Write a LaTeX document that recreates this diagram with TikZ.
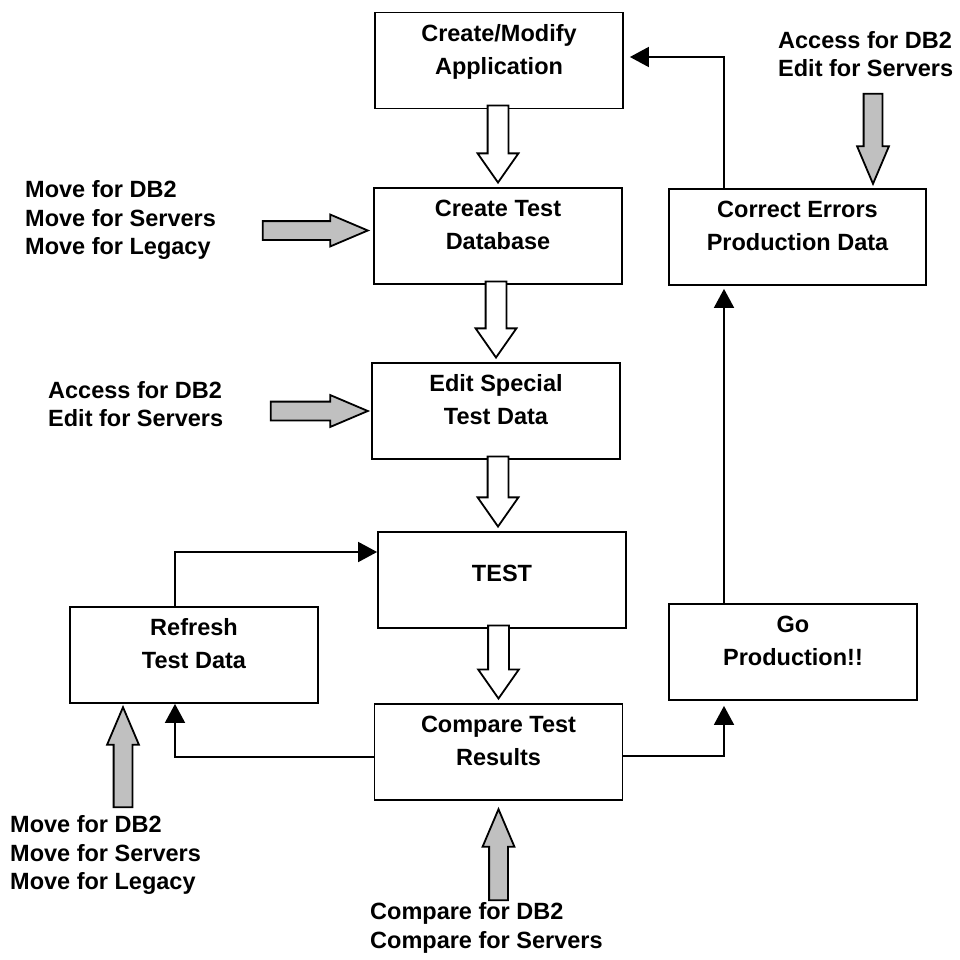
\documentclass[tikz,border=0pt]{standalone}
\usepackage{fontspec}
\setmainfont{Liberation Sans}
\usetikzlibrary{shapes,arrows.meta,positioning}
\definecolor{arrow-gray}{RGB}{192,192,192}

\tikzset{
  stage/.style={draw, line width=1.8pt, minimum width=248pt, minimum height=96pt, inner sep=0pt,
    align=center, text depth=23pt, font=\fontsize{23.5}{33}\selectfont\bfseries},
  note/.style={align=left, inner sep=0pt, anchor=west, font=\fontsize{23.5}{28.5}\selectfont\bfseries},
  hollow/.style={single arrow, draw, line width=1.8pt, fill=white, inner sep=9.5pt,
    single arrow head extend=10pt, single arrow tip angle=70, anchor=tip},
  feed/.style={single arrow, draw, line width=1.8pt, fill=arrow-gray, inner sep=8.5pt,
    single arrow head extend=6.5pt, single arrow tip angle=46, anchor=tip},
  link/.style={line width=1.8pt, -{Triangle[length=19pt,width=20pt]}}
}

\begin{document}
\begin{tikzpicture}[x=1pt,y=-1pt]
\useasboundingbox (0,0) rectangle (959,960);

% main column
\node[stage] (app) at (499,60.5) {Create/Modify\\Application};
\node[stage] (testdb) at (498,236) {Create Test\\Database};
\node[stage] (edit) at (496,411) {Edit Special\\Test Data};
\node[stage, text depth=13pt] (test) at (502,580) {TEST};
\node[stage] (compare) at (498.5,752) {Compare Test\\Results};
% side boxes
\node[stage] (refresh) at (194,655) {Refresh\\Test Data};
\node[stage] (golive) at (793,652) {Go\\Production!!};
\node[stage, minimum width=257pt] (correct) at (797.5,237) {Correct Errors\\Production Data};

% hollow arrows down the column
\node[hollow, rotate=-90, minimum height=77pt] (h1) at ([yshift=3pt]testdb.north) {};
\node[hollow, rotate=-90, minimum height=76pt] (h2) at ([yshift=3pt]edit.north) {};
\node[hollow, rotate=-90, minimum height=70pt] (h3) at ([xshift=-4pt,yshift=3pt]test.north) {};
\node[hollow, rotate=-90, minimum height=73pt] (h4) at ([yshift=3pt]compare.north) {};

% tool inputs
\node[feed, minimum height=105pt] (g1) at ([xshift=-3pt,yshift=5.5pt]testdb.west) {};
\node[feed, minimum height=97pt] (g2) at ([xshift=-1pt]edit.west) {};
\node[feed, rotate=-90, minimum height=90pt] (g3) at ([xshift=75.5pt,yshift=2pt]correct.north) {};
\node[feed, rotate=90, minimum height=100pt] (g4) at ([xshift=-71pt,yshift=-1pt]refresh.south) {};
\node[feed, rotate=90, minimum height=91pt] (g5) at ([yshift=-6pt]compare.south) {};

\node[note] (movetop) at (25,220) {Move for DB2\\Move for Servers\\Move for Legacy};
\node[note] (accessmid) at (48,404) {Access for DB2\\Edit for Servers};
\node[note] (accesstop) at (778,54) {Access for DB2\\Edit for Servers};
\node[note] (movebot) at (10,855) {Move for DB2\\Move for Servers\\Move for Legacy};
\node[note] (cmpbot) at (370,928) {Compare for DB2\\Compare for Servers};

% flow lines
\coordinate (lcol) at (175,0);
\coordinate (rcol) at (724,0);
\draw[link] (lcol |- refresh.north) |- ([yshift=28pt]test.west);
\draw[link] ([yshift=-5pt]compare.west) -| (lcol |- refresh.south);
\draw[link, shorten >=5pt] ([yshift=-4pt]compare.east) -| (rcol |- golive.south);
\draw[link, shorten >=3pt] (rcol |- golive.north) -- (rcol |- correct.south);
\draw[link, shorten >=6pt] (rcol |- correct.north) |- ([yshift=3.5pt]app.east);
\end{tikzpicture}
\end{document}
